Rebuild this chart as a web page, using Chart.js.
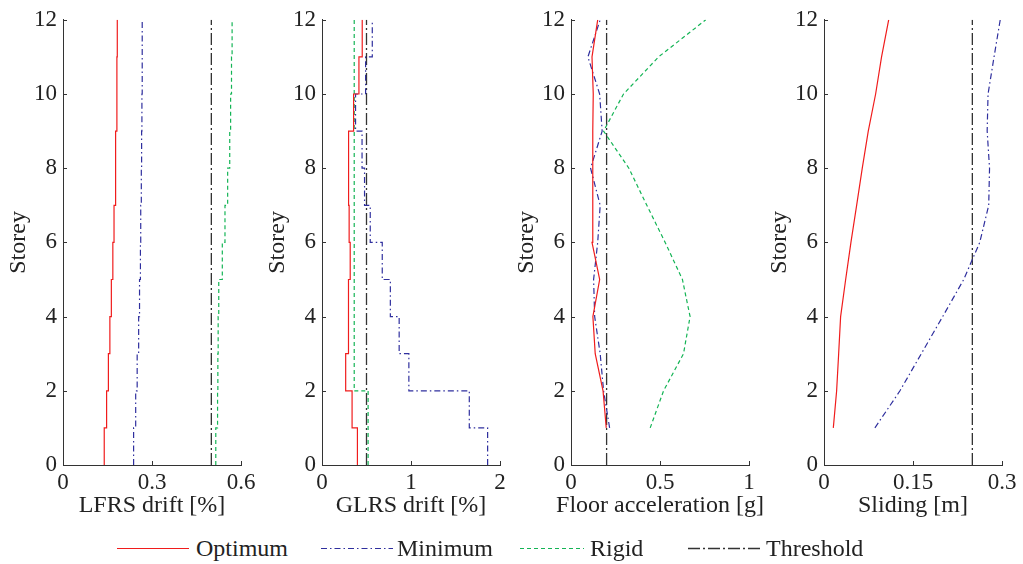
<!DOCTYPE html>
<html>
<head>
<meta charset="utf-8">
<script src="https://cdn.jsdelivr.net/npm/chart.js@4.4.1/dist/chart.umd.min.js"></script>
<style>
  html, body { margin: 0; padding: 0; background: #fff; }
  body { width: 1023px; height: 564px; position: relative; overflow: hidden; font-family: 'Liberation Serif', serif; }
  canvas.panel { position: absolute; top: 0; }
  #legend { position: absolute; left: 0; top: 528px; width: 1023px; height: 36px; }
  .key { position: absolute; top: 0; height: 36px; }
  .key svg { position: absolute; left: 0; top: 0; }
  .key span { position: absolute; top: 8px; white-space: nowrap; font-family: 'Liberation Serif', serif; font-size: 24px; color: #222; line-height: 24px; }
</style>
</head>
<body>
<canvas id="p1" class="panel" width="261" height="525"></canvas>
<canvas id="p2" class="panel" width="261" height="525"></canvas>
<canvas id="p3" class="panel" width="261" height="525"></canvas>
<canvas id="p4" class="panel" width="261" height="525"></canvas>
<div id="legend"></div>
<script>
// Storey levels used by the floor-response profiles (acceleration, sliding)
const storeyLevels = [1, 2, 3, 4, 5, 6, 7, 8, 9, 10, 11, 12];

// Inter-storey drift of the lateral force resisting system [%], storeys 1..12
const lfrsOptimum = [0.139, 0.147, 0.153, 0.158, 0.163, 0.168, 0.172, 0.176, 0.178, 0.181, 0.182, 0.183];
const lfrsMinimum = [0.238, 0.245, 0.250, 0.255, 0.258, 0.261, 0.262, 0.264, 0.265, 0.266, 0.267, 0.267];
const lfrsRigid   = [0.515, 0.521, 0.522, 0.523, 0.525, 0.537, 0.546, 0.555, 0.562, 0.565, 0.568, 0.570];

// Inter-storey drift of the gravity load resisting system [%]
const glrsOptimum = [0.398, 0.338, 0.266, 0.293, 0.300, 0.317, 0.305, 0.300, 0.298, 0.355, 0.415, 0.452];
const glrsMinimum = [1.861, 1.655, 0.976, 0.867, 0.768, 0.677, 0.542, 0.478, 0.450, 0.377, 0.490, 0.565];
const glrsRigid   = [0.518, 0.518, 0.362, 0.362, 0.362, 0.362, 0.362, 0.362, 0.362, 0.362, 0.362, 0.362];

// Peak floor acceleration [g]
const accOptimum = [0.198, 0.180, 0.136, 0.123, 0.161, 0.118, 0.121, 0.123, 0.123, 0.125, 0.118, 0.150];
const accMinimum = [0.217, 0.183, 0.164, 0.133, 0.127, 0.150, 0.164, 0.110, 0.175, 0.161, 0.095, 0.164];
const accRigid   = [0.445, 0.520, 0.632, 0.669, 0.626, 0.529, 0.426, 0.325, 0.183, 0.295, 0.492, 0.757];

// Floor sliding [m]
const slideOptimum = [0.0157, 0.0213, 0.0247, 0.0280, 0.0365, 0.0454, 0.0550, 0.0645, 0.0746, 0.0870, 0.0970, 0.1090];
const slideMinimum = [0.0858, 0.1280, 0.1640, 0.2000, 0.2355, 0.2625, 0.2776, 0.2790, 0.2750, 0.2765, 0.2866, 0.2970];

// Performance limits per panel
const thresholds = [0.5, 0.5, 0.2, 0.25];

// Axis settings
const xTitles = ['LFRS drift [%]', 'GLRS drift [%]', 'Floor acceleration [g]', 'Sliding [m]'];
const xMax = [0.6, 2, 1, 0.3];
const xTickValues = [[0, 0.3, 0.6], [0, 1, 2], [0, 0.5, 1], [0, 0.15, 0.3]];
const xTickLabels = [['0', '0.3', '0.6'], ['0', '1', '2'], ['0', '0.5', '1'], ['0', '0.15', '0.3']];
const storeyMax = 12;

const seriesNames = ['Optimum', 'Minimum', 'Rigid', 'Threshold'];

const STYLE = {
  Optimum:   { color: '#f01c1c', dash: [],            width: 1.2 },
  Minimum:   { color: '#2f2f9e', dash: [6, 3, 1.5, 3], width: 1.2 },
  Rigid:     { color: '#14b455', dash: [4, 3],        width: 1.2 },
  Threshold: { color: '#333333', dash: [12, 3, 2, 3], width: 1.3 }
};

const SERIF = "'Liberation Serif', serif";
const TICK_FONT = { family: SERIF, size: 23 };
const TITLE_FONT = { family: SERIF, size: 24 };
const INK = '#222';
Chart.defaults.font.family = SERIF;

// Stair profile: each storey value held constant between floor k and k+1
function stairs(values) {
  const pts = [];
  values.forEach((v, k) => { pts.push({ x: v, y: k }); pts.push({ x: v, y: k + 1 }); });
  return pts;
}
// Profile through storey levels
function profile(values) {
  return values.map((v, i) => ({ x: v, y: storeyLevels[i] }));
}
function vertical(v) {
  return [{ x: v, y: 0 }, { x: v, y: storeyMax }];
}

function ds(name, data) {
  const s = STYLE[name];
  return {
    label: name, data, showLine: true, fill: false, tension: 0,
    borderColor: s.color, borderWidth: s.width, borderDash: s.dash,
    pointRadius: 0, pointHoverRadius: 0
  };
}

// Small tick marks pointing into the plot area
const inwardTicks = {
  id: 'inwardTicks',
  afterDraw(chart) {
    const { ctx, chartArea, scales } = chart;
    ctx.save();
    ctx.strokeStyle = '#333';
    ctx.lineWidth = 1;
    ctx.beginPath();
    scales.x.ticks.forEach(t => {
      const px = Math.round(scales.x.getPixelForValue(t.value)) + 0.5;
      ctx.moveTo(px, chartArea.bottom);
      ctx.lineTo(px, chartArea.bottom - 4);
    });
    scales.y.ticks.forEach(t => {
      const py = Math.round(scales.y.getPixelForValue(t.value)) + 0.5;
      ctx.moveTo(chartArea.left, py);
      ctx.lineTo(chartArea.left + 4, py);
    });
    ctx.stroke();
    ctx.restore();
  }
};

// Horizontal axis caption, centred under the plot area and free to extend past it
const xCaption = {
  id: 'xCaption',
  afterDraw(chart, args, opts) {
    const { ctx, chartArea } = chart;
    ctx.save();
    ctx.font = `${TITLE_FONT.size}px ${TITLE_FONT.family}`;
    ctx.fillStyle = INK;
    ctx.textAlign = 'center';
    ctx.textBaseline = 'middle';
    ctx.fillText(opts.text, (chartArea.left + chartArea.right) / 2, chartArea.bottom + opts.offset);
    ctx.restore();
  }
};

const panelAxisLeft = [63, 322, 571, 824];
const Y_AXIS_WIDTH = 63;

const panelData = [
  [ds('Optimum', stairs(lfrsOptimum)), ds('Minimum', stairs(lfrsMinimum)), ds('Rigid', stairs(lfrsRigid)), ds('Threshold', vertical(thresholds[0]))],
  [ds('Optimum', stairs(glrsOptimum)), ds('Minimum', stairs(glrsMinimum)), ds('Rigid', stairs(glrsRigid)), ds('Threshold', vertical(thresholds[1]))],
  [ds('Optimum', profile(accOptimum)), ds('Minimum', profile(accMinimum)), ds('Rigid', profile(accRigid)), ds('Threshold', vertical(thresholds[2]))],
  [ds('Optimum', profile(slideOptimum)), ds('Minimum', profile(slideMinimum)), ds('Threshold', vertical(thresholds[3]))]
];

const charts = panelData.map((datasets, i) => {
  const canvas = document.getElementById('p' + (i + 1));
  canvas.style.left = (panelAxisLeft[i] - Y_AXIS_WIDTH) + 'px';
  return new Chart(canvas, {
    type: 'scatter',
    data: { datasets },
    options: {
      responsive: false,
      animation: false,
      events: [],
      layout: { padding: { top: 19, right: 20, bottom: 0, left: 0 } },
      plugins: {
        legend: { display: false },
        tooltip: { enabled: false },
        xCaption: { text: xTitles[i], offset: 41 }
      },
      scales: {
        x: {
          type: 'linear', min: 0, max: xMax[i],
          afterBuildTicks: s => { s.ticks = xTickValues[i].map(v => ({ value: v })); },
          afterFit: s => { s.height = 60; },
          grid: { display: false, drawTicks: false },
          border: { display: true, color: '#333', width: 1 },
          ticks: {
            font: TICK_FONT, color: INK, padding: 4, maxRotation: 0, autoSkip: false,
            callback: (v, idx) => xTickLabels[i][idx]
          },
          title: { display: false }
        },
        y: {
          type: 'linear', min: 0, max: storeyMax,
          afterFit: s => { s.width = Y_AXIS_WIDTH; },
          grid: { display: false, drawTicks: false },
          border: { display: true, color: '#333', width: 1 },
          ticks: { stepSize: 2, font: TICK_FONT, color: INK, padding: 6 },
          title: { display: true, text: 'Storey', font: TITLE_FONT, color: INK, padding: { top: 4, bottom: 0 } }
        }
      }
    },
    plugins: [inwardTicks, xCaption]
  });
});

// Redraw once the serif face is ready so canvas text uses it
if (document.fonts && document.fonts.load) {
  Promise.all([
    document.fonts.load("23px 'Liberation Serif'"),
    document.fonts.load("24px 'Liberation Serif'")
  ]).then(() => charts.forEach(c => c.update('none')), () => {});
}

// Shared legend below the panels
const legendX = [117, 321, 520, 688];
const legendLineLen = [72, 72, 64, 72];
const legendGap = [7, 4, 6, 6];
const legend = document.getElementById('legend');
const NS = 'http://www.w3.org/2000/svg';
seriesNames.forEach((name, i) => {
  const s = STYLE[name];
  const key = document.createElement('div');
  key.className = 'key';
  key.style.left = legendX[i] + 'px';
  const svg = document.createElementNS(NS, 'svg');
  svg.setAttribute('width', legendLineLen[i]);
  svg.setAttribute('height', 36);
  const line = document.createElementNS(NS, 'line');
  line.setAttribute('x1', 0);
  line.setAttribute('x2', legendLineLen[i]);
  line.setAttribute('y1', 20.5);
  line.setAttribute('y2', 20.5);
  line.setAttribute('stroke', s.color);
  line.setAttribute('stroke-width', s.width);
  if (s.dash.length) line.setAttribute('stroke-dasharray', s.dash.join(' '));
  svg.appendChild(line);
  key.appendChild(svg);
  const label = document.createElement('span');
  label.style.left = (legendLineLen[i] + legendGap[i]) + 'px';
  label.textContent = name;
  key.appendChild(label);
  legend.appendChild(key);
});
</script>
</body>
</html>
